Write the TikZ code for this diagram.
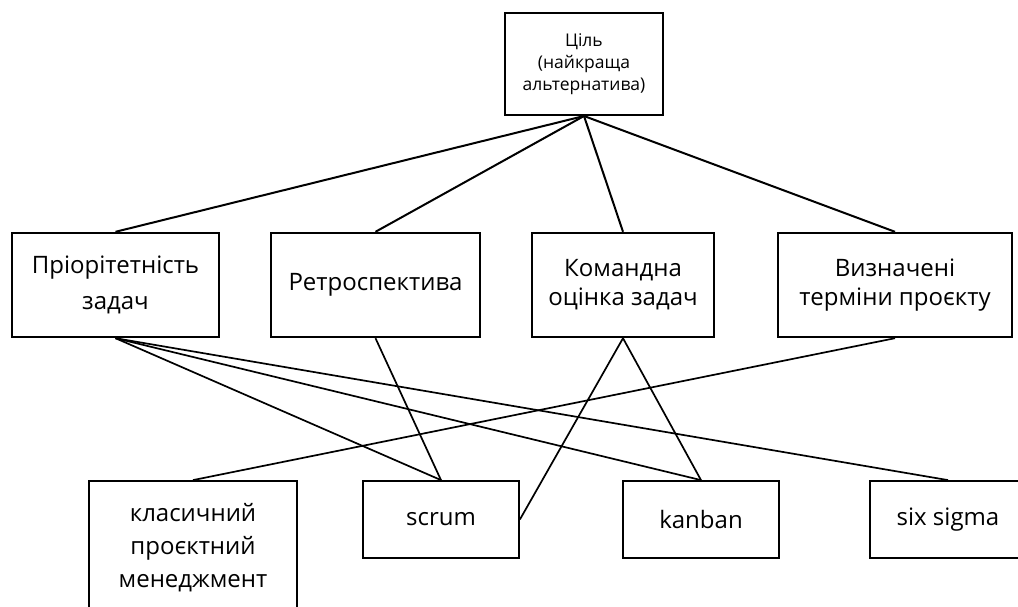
\documentclass[tikz,border=0pt]{standalone}
\usepackage{fontspec}
\setmainfont{Open Sans}

\begin{document}
\begin{tikzpicture}[x=1pt,y=-1pt,
  goalbox/.style={draw,line width=2pt,align=center,minimum width=158pt,minimum height=102pt,inner sep=1pt,font=\fontsize{17.5}{22}\selectfont},
  critbox/.style={draw,line width=2.4pt,align=center,minimum height=104pt,font=\fontsize{24}{29}\selectfont},
  altbox/.style={draw,line width=1.8pt,align=center,minimum width=156pt,minimum height=77pt,font=\fontsize{24}{33}\selectfont},
  link/.style={line width=2pt},
  sublink/.style={line width=1.7pt}]

\useasboundingbox (0,0) rectangle (1018,606);

% goal
\node[goalbox] (goal) at (584,64) {Ціль\\(найкраща\\альтернатива)};

% criteria
\node[critbox,minimum width=207pt,font=\fontsize{24}{36}\selectfont] (prio) at (115.5,285) {Пріорітетність\\задач};
\node[critbox,minimum width=209pt] (retro) at (375.5,285) {Ретроспектива};
\node[critbox,minimum width=182pt] (team) at (623,285) {Командна\\оцінка задач};
\node[critbox,minimum width=234pt] (terms) at (895,285) {Визначені\\терміни проєкту};

% alternatives
\node[altbox,minimum width=208pt,minimum height=134pt] (classic) at (193,548) {класичний\\проєктний\\менеджмент};
\node[altbox] (scrum) at (441,519.5) {scrum};
\node[altbox] (kanban) at (701,519.5) {kanban};
\node[altbox] (sixsigma) at (948,519.5) {six sigma};

\foreach \c in {prio,retro,team,terms}
  \draw[link] (goal.south)--(\c.north);

\draw[sublink] (prio.south)--(scrum.north);
\draw[sublink] (prio.south)--(kanban.north);
\draw[sublink] (prio.south)--(sixsigma.north);
\draw[sublink] (retro.south)--(scrum.north);
\draw[sublink] (team.south)--(scrum.east);
\draw[sublink] (team.south)--(kanban.north);
\draw[sublink] (terms.south)--(classic.north);

\end{tikzpicture}
\end{document}
